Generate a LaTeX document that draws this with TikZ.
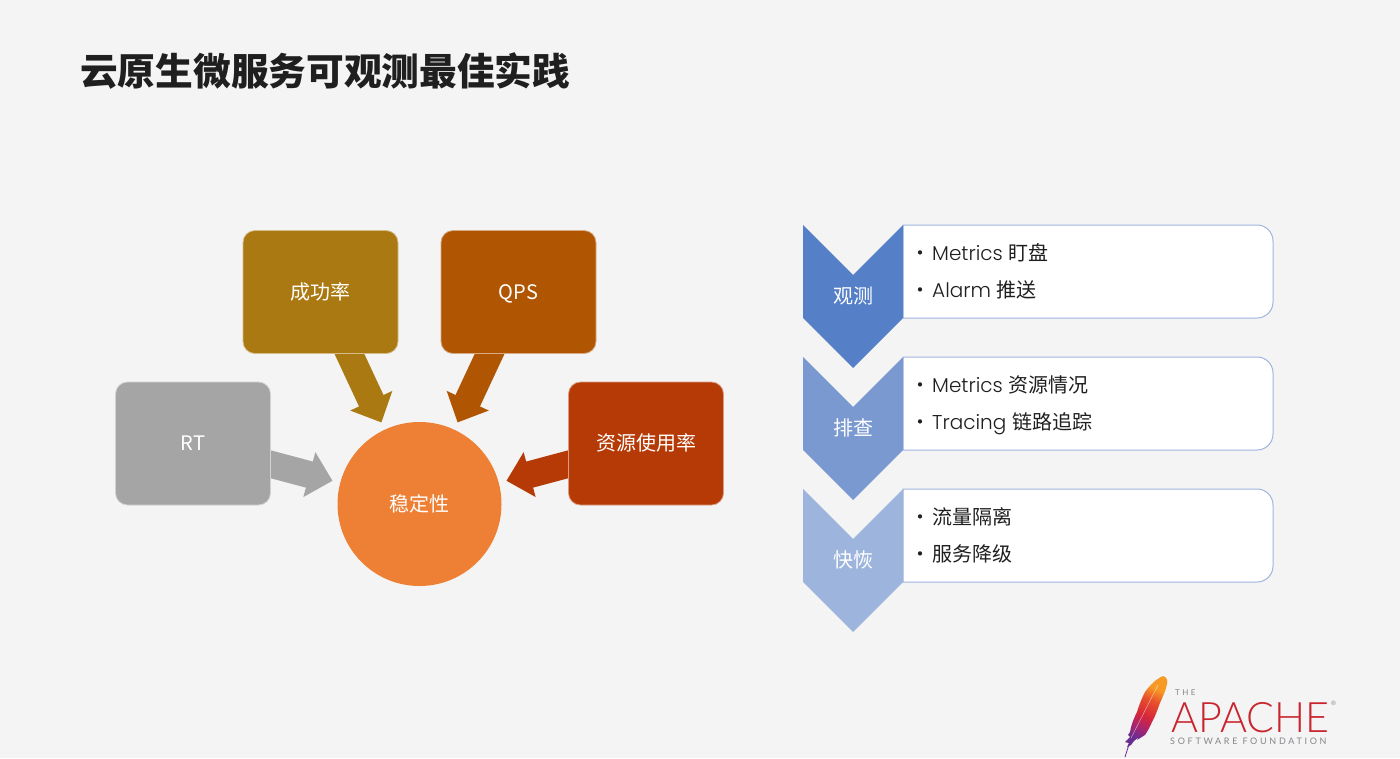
\documentclass[tikz,border=0pt]{standalone}
\usepackage{fontspec}
\setmainfont{Noto Sans CJK SC}
\newfontfamily\lat{Poppins Light}
\newfontfamily\logofont{Lato Light}
\newfontfamily\logowide[LetterSpace=30]{Lato}
\usetikzlibrary{positioning,arrows.meta,calc}
\pgfdeclarelayer{pagebg}
\pgfdeclarelayer{links}
\pgfsetlayers{pagebg,links,main}
\definecolor{page}{HTML}{F4F4F4}
\definecolor{ink}{HTML}{1F1F1F}
\definecolor{grayrt}{HTML}{A5A5A5}
\definecolor{goldsr}{HTML}{AA7912}
\definecolor{brownqps}{HTML}{B05502}
\definecolor{rustres}{HTML}{B53A06}
\definecolor{orangecore}{HTML}{EE8035}
\definecolor{blueA}{HTML}{5580C7}
\definecolor{blueB}{HTML}{7A99D1}
\definecolor{blueC}{HTML}{9DB4DC}
\definecolor{edge}{HTML}{9FB5DE}
\definecolor{apachered}{HTML}{C9252E}
\definecolor{apachegray}{HTML}{85858A}
\definecolor{featherA}{HTML}{6A2C91}
\definecolor{featherB}{HTML}{A8246F}
\definecolor{featherC}{HTML}{D5263A}
\definecolor{featherD}{HTML}{E8512B}
\definecolor{featherE}{HTML}{F79A25}
\pgfdeclareverticalshading{featherfade}{100bp}{color(0bp)=(featherA);
  color(27bp)=(featherA); color(36bp)=(featherB); color(46bp)=(featherC);
  color(60bp)=(featherD); color(70bp)=(featherE); color(100bp)=(featherE)}
\newcommand{\itm}[1]{\makebox[16pt][l]{\hspace{-6pt}•}\vphantom{流}#1}
\newcommand{\en}[1]{\smash{\lat #1}\hspace{1.5pt}}
\tikzset{
  box/.style={fill=#1, draw=#1!50!white, line width=.8pt, rounded corners=12pt,
    minimum width=155pt, minimum height=123pt, inner sep=0pt, outer sep=0pt,
    text=white, text height=17pt, text depth=3pt, font=\fontsize{20pt}{24pt}\selectfont},
  core/.style={circle, fill=orangecore, minimum size=164pt, inner sep=0pt, outer sep=0pt,
    text=white, font=\fontsize{20pt}{24pt}\selectfont},
  arr/.style={-{Triangle[length=24pt,width=45pt]}, line width=27pt, shorten >=8pt},
  panel/.style={fill=white, draw=edge, line width=1pt},
  tag/.style={text=white, inner sep=0pt, font=\fontsize{20pt}{24pt}\selectfont},
  lab/.style={anchor=west, inner sep=0pt, align=left, text=ink,
    font=\fontsize{20pt}{37pt}\selectfont},
}
\begin{document}
\begin{tikzpicture}[x=1pt,y=-1pt]
    \begin{pgfonlayer}{pagebg}
      \fill[page] (0,0) rectangle (1400,758);
    \end{pgfonlayer}
    \useasboundingbox (0,0) rectangle (1400,758);
    \node[anchor=west, inner sep=0pt, text=ink, font=\fontsize{37.7pt}{44pt}\selectfont\bfseries] (title) at (80,71) {云原生微服务可观测最佳实践};
    % left group
    \node[core] (core) at (419.5,504) {稳定性};
    \node[box=goldsr] (sr) at (320.5,292) {成功率};
    \node[box=brownqps, right=43pt of sr] (qps) {QPS};
    \node[box=grayrt] (rt) at (193,443.5) {RT};
    \node[box=rustres, right=298pt of rt] (res) {资源使用率};
    \begin{pgfonlayer}{links}
      \foreach \i/\j in {rt/grayrt,sr/goldsr,qps/brownqps,res/rustres} \draw[arr, color=\j] (\i.center) -- (core);
    \end{pgfonlayer}
    % right group
    \foreach \y/\col/\nm/\tg/\la/\lb in {225/blueA/watch/观测/\en{Metrics} 盯盘/\en{Alarm} 推送,
        357/blueB/check/排查/\en{Metrics} 资源情况/\en{Tracing} 链路追踪,
        489/blueC/heal/快恢/流量隔离/服务降级} {
      \draw[panel] (903,\y) [rounded corners=16pt] -- (1273,\y) -- (1273,\y+93) [sharp corners] -- (903,\y+93) -- cycle;
      \fill[\col] (803,\y) -- (853,\y+50) -- (903,\y) -- (903,\y+93) -- (853,\y+143) -- (803,\y+93) -- cycle;
      \node[tag] (tag\nm) at (853,\y+71) {\tg};
      \node[lab] (lab\nm) at (916,\y+46) {\itm{\la}\\\itm{\lb}};
    }
    % logo
    \shade[shading=featherfade, shading angle=-25]
      (1163,676) .. controls (1167,677) and (1168,681) .. (1167,684)
      .. controls (1166,690) and (1163,696) .. (1160,703)
      .. controls (1157,711) and (1155,717) .. (1152,722)
      .. controls (1150,727) and (1147,732) .. (1145,735)
      -- (1137,740) -- (1139,737) -- (1134,741) -- (1131,745) -- (1127,747)
      -- (1129,743) -- (1125,742) -- (1130,737) -- (1128,735) -- (1130,732)
      .. controls (1131,725) and (1134,718) .. (1137,712)
      .. controls (1139,705) and (1142,698) .. (1145,692)
      .. controls (1150,685) and (1156,679) .. (1163,676) -- cycle;
    \draw[featherA, line width=.8pt] (1131,738) -- (1125,757);
    \draw[white, opacity=.55, line width=.5pt] (1158,685) -- (1131,738);
    \node[anchor=west, inner sep=0pt, text=apachegray, font=\logowide\fontsize{8pt}{9pt}\selectfont] (the) at (1175,692.5) {THE};
    \node[anchor=west, inner sep=0pt, text depth=0pt, text=apachered] (apache) at (1171,717) {\logofont\fontsize{42pt}{44pt}\selectfont\scalebox{.98}[1]{APACHE}};
    \node[anchor=west, inner sep=0pt, text=apachegray, font=\logowide\fontsize{9pt}{10pt}\selectfont] (asf) at (1170,741) {SOFTWARE FOUNDATION};
    \node[anchor=west, inner sep=0pt, text=apachegray, font=\logowide\fontsize{6pt}{7pt}\selectfont] (reg) at (1331,703) {®};
  \end{tikzpicture}
\end{document}
